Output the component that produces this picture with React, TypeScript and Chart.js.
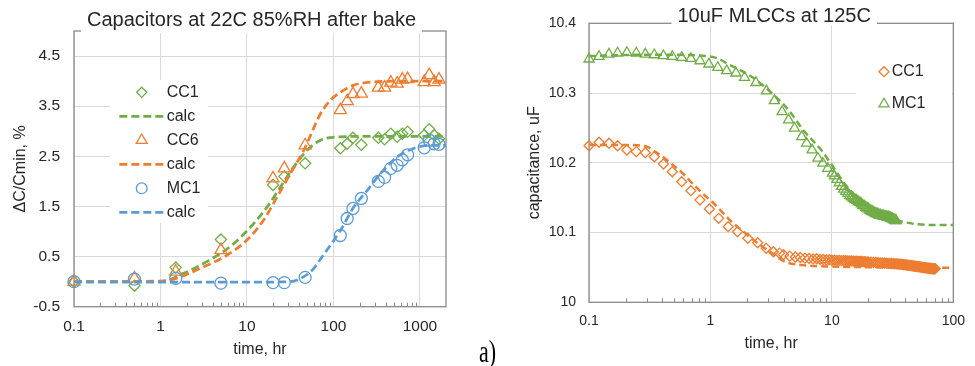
import React, { useEffect, useRef } from 'react';
import { Chart, registerables } from 'chart.js';

Chart.register(...registerables);

const FONT = "'Liberation Sans', Arial, Helvetica, sans-serif";
const TEXT = '#262626';
const GRID = '#d9d9d9';
const AXIS = '#8a8a8a';
const GREEN = '#70AD47';
const ORANGE = '#ED7D31';
const BLUE = '#5B9BD5';

// ---------------- Left chart ----------------
const leftTitle = 'Capacitors at 22C 85%RH after bake';
const leftXTitle = 'time, hr';
const leftYTitle = 'ΔC/Cmin, %';
const leftXTicks = [0.1, 1, 10, 100, 1000];
const leftXTickLabels = ['0.1', '1', '10', '100', '1000'];
const leftYTicks = [-0.5, 0.5, 1.5, 2.5, 3.5, 4.5];
const leftYTickLabels = ['-0.5', '0.5', '1.5', '2.5', '3.5', '4.5'];

const measTimes = [0.1, 0.5, 1.5, 5, 20, 27, 47, 120, 144, 168, 210, 330, 390, 460, 545, 625, 720, 1120, 1280, 1460, 1660];
const cc1Meas = [0, -0.08, 0.28, 0.84, 1.93, 2.1, 2.36, 2.66, 2.75, 2.87, 2.73, 2.87, 2.84, 2.95, 2.89, 2.95, 2.99, 2.92, 3.04, 2.92, 2.85];
const cc6Meas = [0, 0.065, 0.2, 0.63, 2.06, 2.26, 2.72, 3.42, 3.6, 3.74, 3.75, 3.87, 3.87, 3.97, 3.95, 4.03, 4.04, 3.98, 4.12, 3.98, 4.03];
const mc1Meas = [0, 0.05, 0.065, -0.03, -0.02, -0.02, 0.085, 0.92, 1.26, 1.46, 1.66, 2.0, 2.08, 2.26, 2.32, 2.43, 2.53, 2.67, 2.82, 2.75, 2.74];

const cc1CalcT = [0.1, 1, 1.85, 3.44, 6.4, 11, 17.1, 24.4, 34.8, 49.6, 70.8, 121, 270, 2000];
const cc1CalcV = [0, 0, 0.165, 0.4, 0.7, 1.09, 1.49, 1.89, 2.29, 2.62, 2.82, 2.89, 2.9, 2.9];
const cc6CalcT = [0.1, 1, 1.42, 2.88, 5.9, 10, 15.6, 22.3, 31.8, 45.4, 70.8, 92.5, 121, 172, 270, 655, 2000];
const cc6CalcV = [0, 0.01, 0.05, 0.265, 0.53, 0.83, 1.23, 1.69, 2.16, 2.62, 3.35, 3.62, 3.78, 3.92, 3.98, 4.0, 4.0];
const mc1CalcT = [0.1, 10, 31.8, 45.4, 59.3, 70.8, 121, 172, 246, 351, 548, 855, 1334, 2000];
const mc1CalcV = [-0.01, -0.01, 0.0, 0.1, 0.265, 0.45, 1.03, 1.49, 1.82, 2.16, 2.49, 2.66, 2.72, 2.72];

// ---------------- Right chart ----------------
const rightTitle = '10uF MLCCs at 125C';
const rightXTitle = 'time, hr';
const rightYTitle = 'capacitance, uF';
const rightXTicks = [0.1, 1, 10, 100];
const rightXTickLabels = ['0.1', '1', '10', '100'];
const rightYTicks = [10, 10.1, 10.2, 10.3, 10.4];
const rightYTickLabels = ['10', '10.1', '10.2', '10.3', '10.4'];

const rCC1T = [0.1, 0.121, 0.146, 0.172, 0.205, 0.245, 0.291, 0.345, 0.41, 0.485, 0.58, 0.69, 0.82, 0.98, 1.17, 1.4, 1.67, 2.03, 2.45, 2.88, 3.3,
  3.7, 4.0, 4.5, 5.0, 5.5, 6.0, 6.5, 7.0, 7.5, 8.0, 8.5, 9.0, 9.5, 10,
  10.5, 11, 11.5, 12, 12.5, 13, 13.5, 14, 14.5, 15, 15.5, 16, 16.5, 17, 17.5, 18, 18.5, 19, 19.5, 20,
  21, 22, 23, 24, 25, 26, 27, 28, 29, 30, 31, 32, 33, 34, 35, 36, 37, 38, 39, 40,
  41, 42, 43, 44, 45, 46, 47, 48, 49, 50, 51, 52, 53, 54, 55, 56, 57, 58, 59, 60,
  61, 62, 63, 64, 65, 66, 67, 68, 69, 70, 71];
const rCC1V = [10.2245, 10.2294, 10.228, 10.2245, 10.2184, 10.216, 10.2145, 10.2087, 10.1983, 10.1872, 10.1729, 10.16, 10.1467, 10.1338, 10.1204, 10.1084, 10.1012, 10.0918, 10.0854, 10.0774, 10.0725,
  10.0705, 10.0682, 10.0662, 10.065, 10.0642, 10.0633, 10.0628, 10.0622, 10.0624, 10.0616, 10.0613, 10.0608, 10.061, 10.0604,
  10.0603, 10.0601, 10.06, 10.0598, 10.0599, 10.0596, 10.0595, 10.0592, 10.0593, 10.059, 10.0589, 10.0588, 10.0587, 10.0585, 10.0586, 10.0582, 10.0581, 10.058, 10.0579, 10.0577,
  10.0575, 10.0573, 10.057, 10.0567, 10.0566, 10.0565, 10.0562, 10.0561, 10.0559, 10.0558, 10.0556, 10.0555, 10.0553, 10.0552, 10.0549, 10.0547, 10.0545, 10.0543, 10.054, 10.0538,
  10.0535, 10.0533, 10.053, 10.0528, 10.0525, 10.0523, 10.0521, 10.0519, 10.0516, 10.0514, 10.0512, 10.051, 10.0507, 10.0505, 10.0502, 10.05, 10.0498, 10.0497, 10.0495, 10.0493,
  10.0491, 10.049, 10.0488, 10.0487, 10.0485, 10.0484, 10.0482, 10.0481, 10.0481, 10.048, 10.0482];

const rMC1T = [0.1, 0.121, 0.146, 0.172, 0.205, 0.245, 0.291, 0.345, 0.41, 0.485, 0.58, 0.69, 0.82, 0.97, 1.15, 1.36, 1.62, 1.91, 2.37, 2.89, 3.36,
  3.89, 4.4, 4.92, 5.64, 6.19, 6.87, 7.67, 8.42, 9.24, 10.1,
  10.5, 11, 11.5, 12, 12.5, 13, 13.5, 14, 14.5, 15, 15.5, 16, 16.5, 17, 17.5, 18, 18.5, 19, 19.5, 20,
  20.5, 21, 21.5, 22, 22.5, 23, 23.5, 24, 24.5, 25, 25.5, 26, 26.5, 27, 27.5, 28, 28.5, 29, 29.5, 30,
  30.5, 31, 31.5, 32, 32.5, 33, 33.5, 33.8];
const rMC1V = [10.3487, 10.3524, 10.3558, 10.3573, 10.3581, 10.3573, 10.3558, 10.3548, 10.3534, 10.3524, 10.351, 10.3495, 10.3462, 10.3415, 10.3366, 10.332, 10.3286, 10.3223, 10.315, 10.303, 10.289,
  10.2733, 10.2614, 10.2495, 10.2374, 10.228, 10.2184, 10.2065, 10.1993, 10.192, 10.185,
  10.181, 10.176, 10.171, 10.166, 10.162, 10.159, 10.156, 10.153, 10.151, 10.149, 10.147, 10.146, 10.144, 10.143, 10.141, 10.139, 10.138, 10.136, 10.135, 10.134,
  10.132, 10.131, 10.13, 10.129, 10.128, 10.127, 10.127, 10.126, 10.125, 10.125, 10.124, 10.124, 10.124, 10.123, 10.123, 10.123, 10.122, 10.122, 10.122, 10.121,
  10.121, 10.12, 10.12, 10.119, 10.118, 10.118, 10.117, 10.117];

const rCC1CalcT = [0.1, 0.2, 0.3, 0.35, 0.42, 0.49, 0.59, 0.71, 0.86, 1.03, 1.24, 1.49, 1.8, 2.17, 2.69, 3.24, 4.1, 5.6, 7.2, 10, 20, 40, 75, 100];
const rCC1CalcV = [10.2255, 10.2255, 10.2231, 10.216, 10.2065, 10.1968, 10.185, 10.1706, 10.1563, 10.1442, 10.13, 10.1156, 10.1037, 10.0918, 10.0797, 10.0703, 10.0582, 10.0535, 10.052, 10.0512, 10.0503, 10.0498, 10.0496, 10.0496];
const rMC1CalcT = [0.1, 0.3, 0.65, 0.91, 1.13, 1.45, 1.86, 2.37, 3.55, 4.4, 5.8, 8.2, 9.8, 13, 17, 20.6, 25, 30, 37.9, 52, 71, 100];
const rMC1CalcV = [10.353, 10.355, 10.3546, 10.353, 10.35, 10.34, 10.3306, 10.319, 10.2925, 10.2757, 10.247, 10.218, 10.199, 10.168, 10.147, 10.136, 10.127, 10.121, 10.1156, 10.1118, 10.1108, 10.1108];

// ---------------- helpers ----------------
const pts = (t: number[], v: number[]) => t.map((x, i) => ({ x, y: v[i] }));

function marks(label: string, t: number[], v: number[], color: string, style: string, r: number) {
  return {
    type: 'scatter', label, data: pts(t, v), showLine: false,
    pointStyle: style, pointRadius: r, pointHoverRadius: r, pointBorderWidth: 1.3,
    borderColor: color, pointBorderColor: color, backgroundColor: 'rgba(0,0,0,0)', pointBackgroundColor: 'rgba(0,0,0,0)',
    clip: false,
  };
}
function calc(label: string, t: number[], v: number[], color: string, width: number, dash: number[]) {
  return {
    type: 'line', label, data: pts(t, v), showLine: true, pointRadius: 0, pointHoverRadius: 0,
    borderColor: color, borderWidth: width, borderDash: dash, fill: false,
    tension: 0.4, cubicInterpolationMode: 'monotone', clip: false,
  };
}

function drawMarker(ctx: CanvasRenderingContext2D, style: string, x: number, y: number, r: number) {
  ctx.beginPath();
  if (style === 'circle') ctx.arc(x, y, r, 0, Math.PI * 2);
  else if (style === 'rectRot') { ctx.moveTo(x - r, y); ctx.lineTo(x, y - r); ctx.lineTo(x + r, y); ctx.lineTo(x, y + r); ctx.closePath(); }
  else { ctx.moveTo(x, y - r); ctx.lineTo(x + r * 0.866, y + r / 2); ctx.lineTo(x - r * 0.866, y + r / 2); ctx.closePath(); }
  ctx.stroke();
}

function makeDeco(cfg: any) {
  return {
    id: 'deco',
    beforeDatasetsDraw(chart: any) {
      const { ctx, chartArea: a } = chart;
      const xs = chart.scales.x;
      ctx.save();
      // minor ticks (inside)
      ctx.strokeStyle = AXIS;
      ctx.lineWidth = 1;
      const lo = Math.floor(Math.log10(xs.min));
      const hi = Math.ceil(Math.log10(xs.max));
      ctx.beginPath();
      for (let d = lo; d <= hi; d++) {
        for (let k = 2; k <= 9; k++) {
          const v = k * Math.pow(10, d);
          if (v <= xs.min || v >= xs.max) continue;
          const px = Math.round(xs.getPixelForValue(v)) + 0.5;
          ctx.moveTo(px, a.bottom);
          ctx.lineTo(px, a.bottom - 4);
        }
      }
      ctx.stroke();
      // frame
      ctx.lineWidth = 1.3;
      ctx.strokeStyle = AXIS;
      ctx.strokeRect(a.left, a.top, a.right - a.left, a.bottom - a.top);
      // title with white box
      ctx.font = `20px ${FONT}`;
      const tw = ctx.measureText(cfg.title).width;
      ctx.fillStyle = '#ffffff';
      ctx.fillRect(cfg.titleX - tw / 2 - 6, cfg.titleY - 13, tw + 12, a.top - (cfg.titleY - 13) + 2);
      ctx.fillStyle = TEXT;
      ctx.textAlign = 'center';
      ctx.textBaseline = 'middle';
      ctx.fillText(cfg.title, cfg.titleX, cfg.titleY);
      // legend
      const L = cfg.legend;
      ctx.fillStyle = '#ffffff';
      ctx.fillRect(L.boxX, L.boxY, L.boxW, L.boxH);
      ctx.font = `16px ${FONT}`;
      ctx.textAlign = 'left';
      L.items.forEach((di: number, i: number) => {
        const ds = chart.data.datasets[di];
        const y = L.rowY0 + i * L.rowStep;
        ctx.strokeStyle = ds.borderColor;
        if (ds.showLine) {
          ctx.lineWidth = ds.borderWidth;
          ctx.setLineDash(ds.borderDash);
          ctx.beginPath();
          ctx.moveTo(L.lineX0, y);
          ctx.lineTo(L.lineX1, y);
          ctx.stroke();
          ctx.setLineDash([]);
        } else {
          ctx.lineWidth = 1.3;
          drawMarker(ctx, ds.pointStyle, L.markerX, y, ds.pointRadius * L.markerScale);
        }
        ctx.fillStyle = TEXT;
        ctx.fillText(ds.label, L.textX, y);
      });
      ctx.restore();
    },
  };
}

function scales(opt: any) {
  return {
    x: {
      type: 'logarithmic', min: opt.xMin, max: opt.xMax,
      afterBuildTicks: (s: any) => { s.ticks = opt.xTicks.map((v: number) => ({ value: v })); },
      afterFit: (s: any) => { s.height = opt.xHeight; },
      ticks: { autoSkip: false, maxRotation: 0, padding: opt.xPad, color: TEXT, font: { size: opt.tickSize, family: FONT },
        callback: (_v: any, i: number) => opt.xLabels[i] },
      grid: { color: GRID, lineWidth: 1, drawTicks: false },
      border: { display: false },
      title: { display: true, text: opt.xTitle, color: TEXT, font: { size: 16, family: FONT }, padding: { top: 0, bottom: opt.xTitlePad } },
    },
    y: {
      type: 'linear', min: opt.yMin, max: opt.yMax,
      afterBuildTicks: (s: any) => { s.ticks = opt.yTicks.map((v: number) => ({ value: v })); },
      afterFit: (s: any) => { s.width = opt.yWidth; },
      ticks: { padding: opt.yPad, color: TEXT, font: { size: opt.tickSize, family: FONT },
        callback: (_v: any, i: number) => opt.yLabels[i] },
      grid: { color: GRID, lineWidth: 1, drawTicks: false },
      border: { display: false },
      title: { display: true, text: opt.yTitle, color: TEXT, font: { size: 16, family: FONT }, padding: { top: opt.yTitlePad, bottom: 0 } },
    },
  };
}

function leftConfig(): any {
  const datasets: any[] = [
    marks('CC1', measTimes, cc1Meas, GREEN, 'rectRot', 5.6),
    calc('calc', cc1CalcT, cc1CalcV, GREEN, 2.75, [8, 4]),
    marks('CC6', measTimes, cc6Meas, ORANGE, 'triangle', 7),
    calc('calc', cc6CalcT, cc6CalcV, ORANGE, 2.75, [8, 4]),
    marks('MC1', measTimes, mc1Meas, BLUE, 'circle', 6),
    calc('calc', mc1CalcT, mc1CalcV, BLUE, 2.75, [8, 4]),
  ];
  datasets.forEach((d, i) => { d.order = datasets.length - i; });
  return {
    type: 'scatter',
    data: { datasets },
    options: {
      responsive: false, animation: false, events: [],
      layout: { padding: { left: 0, right: 39, top: 31, bottom: 0 } },
      plugins: { legend: { display: false }, tooltip: { enabled: false }, title: { display: false } },
      scales: scales({
        xMin: 0.1, xMax: 2000, xTicks: leftXTicks, xLabels: leftXTickLabels, xHeight: 59.3, xPad: 11, xTitle: leftXTitle, xTitlePad: 7,
        yMin: -0.5, yMax: 5, yTicks: leftYTicks, yLabels: leftYTickLabels, yWidth: 74, yPad: 14, yTitle: leftYTitle, yTitlePad: 11,
        tickSize: 15.5,
      }),
    },
    plugins: [makeDeco({
      title: leftTitle, titleX: 251.5, titleY: 20.8,
      legend: { boxX: 110, boxY: 80, boxW: 98, boxH: 143, items: [0, 1, 2, 3, 4, 5], rowY0: 92.3, rowStep: 24,
        markerX: 141.7, lineX0: 119.3, lineX1: 163.3, textX: 166.7, markerScale: 0.9 },
    })],
  };
}

function rightConfig(): any {
  const datasets: any[] = [
    marks('CC1', rCC1T, rCC1V, ORANGE, 'rectRot', 5),
    calc('calc', rCC1CalcT, rCC1CalcV, ORANGE, 2.5, [7, 4]),
    marks('MC1', rMC1T, rMC1V, GREEN, 'triangle', 5.8),
    calc('calc', rMC1CalcT, rMC1CalcV, GREEN, 2.5, [7, 4]),
  ];
  datasets.forEach((d, i) => { d.order = datasets.length - i; });
  return {
    type: 'scatter',
    data: { datasets },
    options: {
      responsive: false, animation: false, events: [],
      layout: { padding: { left: 0, right: 13, top: 23.3, bottom: 0 } },
      plugins: { legend: { display: false }, tooltip: { enabled: false }, title: { display: false } },
      scales: scales({
        xMin: 0.1, xMax: 100, xTicks: rightXTicks, xLabels: rightXTickLabels, xHeight: 63.7, xPad: 10, xTitle: rightXTitle, xTitlePad: 13,
        yMin: 10, yMax: 10.4, yTicks: rightYTicks, yLabels: rightYTickLabels, yWidth: 74, yPad: 13, yTitle: rightYTitle, yTitlePad: 9.6,
        tickSize: 14,
      }),
    },
    plugins: [makeDeco({
      title: rightTitle, titleX: 259.2, titleY: 16.7,
      legend: { boxX: 341, boxY: 55, boxW: 96, boxH: 65, items: [0, 2], rowY0: 71.7, rowStep: 32.3,
        markerX: 369, lineX0: 0, lineX1: 0, textX: 376.7, markerScale: 1 },
    })],
  };
}

function ChartCanvas({ make, left, width, height }: { make: () => any; left: number; width: number; height: number }) {
  const ref = useRef<HTMLCanvasElement>(null);
  useEffect(() => {
    Chart.defaults.font.family = FONT;
    const chart = new Chart(ref.current as HTMLCanvasElement, make());
    return () => chart.destroy();
  }, []);
  return (
    <canvas ref={ref} width={width} height={height}
      style={{ position: 'absolute', left, top: 0, width, height, display: 'block' }} />
  );
}

export default function App() {
  return (
    <div style={{ position: 'fixed', left: 0, top: 0, width: 975, height: 366, background: '#ffffff', overflow: 'hidden' }}>
      <ChartCanvas make={leftConfig} left={0} width={485} height={366} />
      <ChartCanvas make={rightConfig} left={515} width={460} height={366} />
      <div style={{ position: 'absolute', left: 479, top: 346, height: 22, fontFamily: "'Liberation Serif', 'Times New Roman', serif",
        fontSize: 22, lineHeight: '22px', color: '#000', transform: 'scaleY(1.45)', transformOrigin: 'left bottom', whiteSpace: 'nowrap' }}>
        a)
      </div>
    </div>
  );
}
